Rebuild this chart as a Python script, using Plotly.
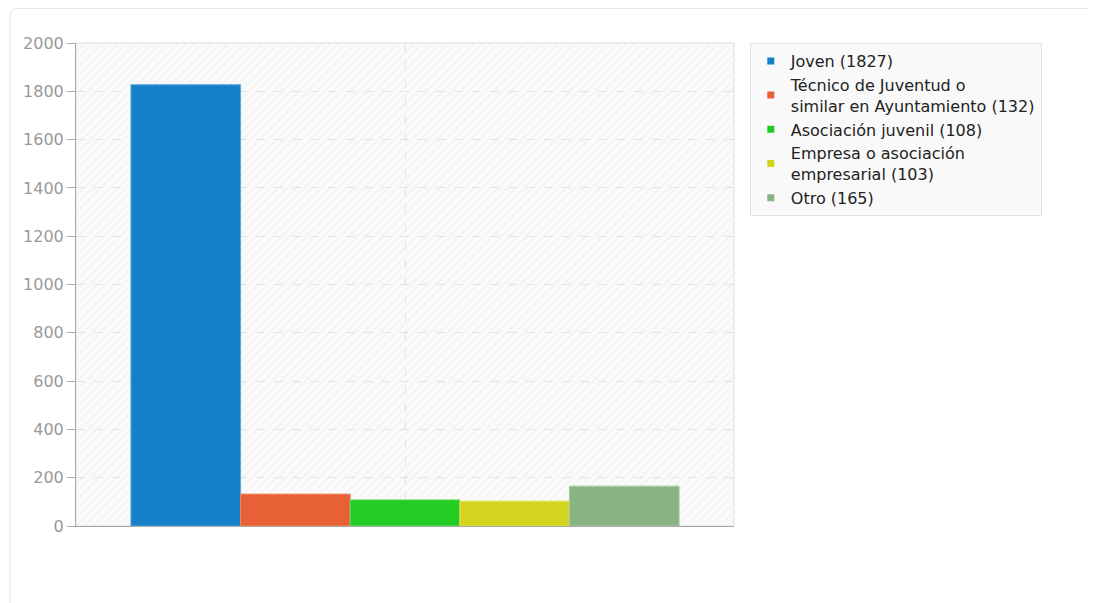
import base64
import plotly.graph_objects as go

# datos
categorias = ["Joven", "Técnico de Juventud o<br>similar en Ayuntamiento",
              "Asociación juvenil", "Empresa o asociación<br>empresarial", "Otro"]
valores = [1827, 132, 108, 103, 165]
colores = ["#1580C8", "#E86035", "#22CC22", "#D4D41E", "#88B483"]
bordes = ["#5AA6DC", "#F08A66", "#5EDC5E", "#E0E05A", "#A8C8A4"]
y_ticks = list(range(0, 2001, 200))

fig = go.Figure()
for nombre, v, c, b in zip(categorias, valores, colores, bordes):
    fig.add_trace(go.Bar(
        x=[""], y=[v], name=f"{nombre} ({v})", showlegend=False,
        marker=dict(color=c, line=dict(color=b, width=1)),
        hoverinfo="y",
    ))
# entradas de leyenda con cuadrado pequeño
for nombre, v, c in zip(categorias, valores, colores):
    fig.add_trace(go.Scatter(
        x=[None], y=[None], mode="markers", name=f"{nombre} ({v})",
        marker=dict(symbol="square", size=7, color=c),
    ))

# fondo rayado del area de trazado
svg = ('<svg xmlns="http://www.w3.org/2000/svg" width="660" height="484">'
       '<defs><pattern id="p" width="6" height="6" patternUnits="userSpaceOnUse" '
       'patternTransform="rotate(45)"><rect width="6" height="6" fill="#fafafa"/>'
       '<line x1="0" y1="0" x2="0" y2="6" stroke="#ececec" stroke-width="1.5"/></pattern></defs>'
       '<rect width="660" height="484" fill="url(#p)"/></svg>')
src = "data:image/svg+xml;base64," + base64.b64encode(svg.encode()).decode()

# marco exterior con esquina redondeada
x0, x1, y0, y1 = -0.1003, 1.56, -0.2, 1.0714
rx, ry = 8 / 658, 8 / 483
marco = (f"M {x0},{y0} L {x0},{y1 - ry} Q {x0},{y1} {x0 + rx},{y1} "
         f"L {x1},{y1} L {x1},{y0} Z")

fig.update_layout(
    width=1087, height=595,
    margin=dict(l=68, r=361, t=35, b=77),
    paper_bgcolor="white",
    plot_bgcolor="rgba(0,0,0,0)",
    font=dict(family="DejaVu Sans", size=16, color="#222"),
    barmode="group", bargap=0.167, bargroupgap=0,
    images=[dict(source=src, xref="paper", yref="paper", x=0, y=1,
                 sizex=1, sizey=1, sizing="stretch", layer="below",
                 xanchor="left", yanchor="top")],
    shapes=[
        dict(type="path", xref="paper", yref="paper", path=marco,
             line=dict(color="#e6e6e6", width=1), fillcolor="rgba(0,0,0,0)",
             layer="below"),
        dict(type="rect", xref="paper", yref="paper",
             x0=0, x1=1, y0=0, y1=1,
             line=dict(color="#dedede", width=1), fillcolor="rgba(0,0,0,0)",
             layer="below"),
    ],
    legend=dict(x=1.024, y=1.0, xanchor="left", yanchor="top",
                bgcolor="#f9f9f9", bordercolor="#e2e2e2", borderwidth=1,
                font=dict(size=16, color="#222"), tracegroupgap=0,
                itemwidth=30),
    showlegend=True,
)
fig.update_xaxes(
    showticklabels=False, showgrid=True, gridcolor="#e4e4e4", griddash="dash",
    showline=True, linecolor="#aaaaaa", linewidth=1, mirror=False,
    zeroline=False,
)
fig.update_yaxes(
    range=[0, 2000], tickvals=y_ticks, ticks="outside", ticklen=8,
    tickcolor="#aaaaaa", tickfont=dict(size=16, color="#999999"),
    showgrid=True, gridcolor="#e4e4e4", griddash="dash",
    showline=True, linecolor="#aaaaaa", linewidth=1, zeroline=False,
)

fig.write_html("out.html")
